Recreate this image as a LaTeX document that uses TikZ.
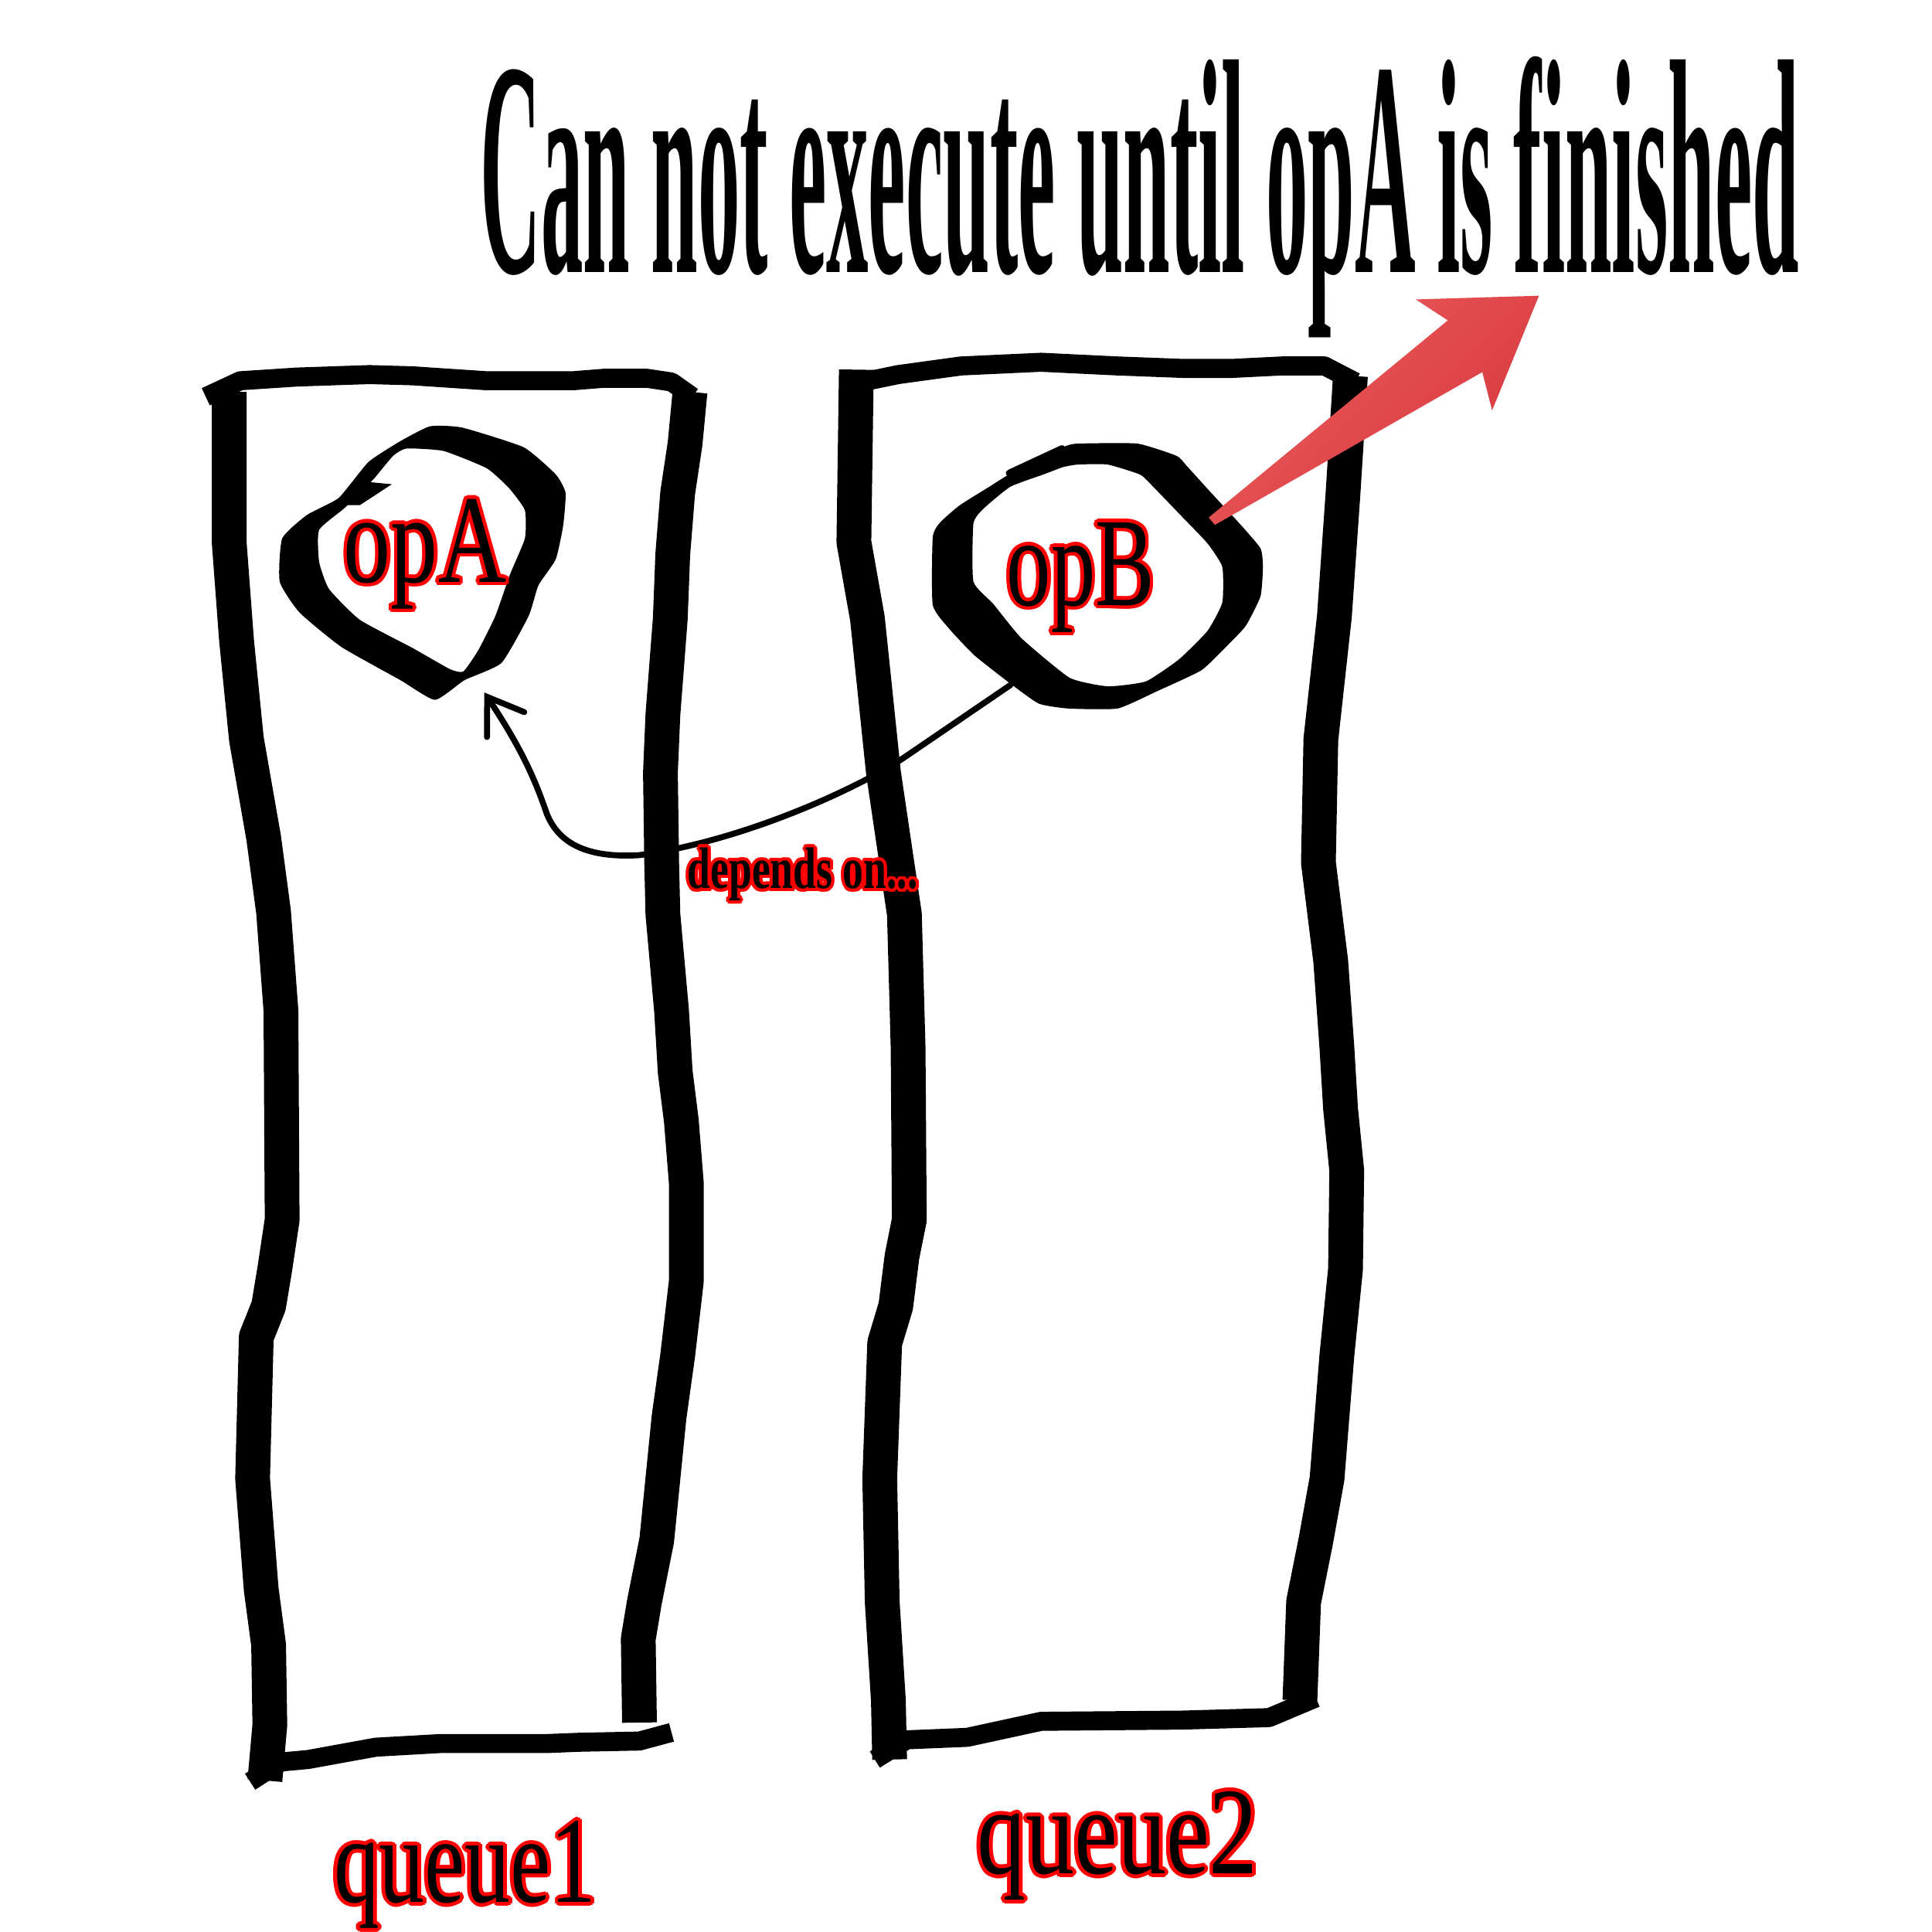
\documentclass[tikz,border=0pt]{standalone}
\usepackage{fontspec}
\setmainfont{Liberation Serif}
\usepackage{graphicx}
\usetikzlibrary{calc,arrows.meta}
\definecolor{arrowlight}{RGB}{236,92,94}
\definecolor{arrowdark}{RGB}{214,56,60}
\newlength\ulen
\setlength\ulen{0.15944mm}
\tikzset{
  vstroke/.style={line width=12.8pt, line join=round},
  hstroke/.style={line width=7pt, line join=round},
  ring/.style={fill=black, even odd rule},
  conn/.style={line width=2.2pt, line cap=round, line join=round,
    -{Straight Barb[length=4.3mm,width=5.8mm,line cap=round]}},
  lab/.style={anchor=north west, inner sep=0pt, outer sep=0pt},
  bigarrow/.style={left color=arrowlight, right color=arrowdark, shading angle=45},
}
% #1 name, #2 coordinate, #3 width (units), #4 height (units), #5 core colour, #6 outline, #7 text
\newcommand\olabel[7]{%
  \foreach \a in {0,30,...,330}{
    \node[lab,text=red] at ($(#2)+(\a:#6)$) {\resizebox*{#3\ulen}{#4\ulen}{#7}};
  }
  \node[lab,text=#5] (#1) at (#2) {\resizebox*{#3\ulen}{#4\ulen}{#7}};
}
\begin{document}
\begin{tikzpicture}[x=0.15944mm,y=-0.15944mm]
\fill[white] (0,0) rectangle (1568,1568);
\useasboundingbox (0,0) rectangle (1568,1568);

% title
\node[lab] (title) at (390,46) {\resizebox*{1070\ulen}{228\ulen}{\bfseries Can not execute until opA is finished}};

% queue1 box
\draw[vstroke] (186,318) -- (186,440) -- (192,520) -- (200,600) -- (214,680) -- (222,740) -- (228,820) -- (229,990) -- (223,1030) -- (218,1060) -- (208,1085) -- (205,1200) -- (212,1290) -- (218,1335) -- (219,1400) -- (215,1445);
\draw[hstroke] (167,322) -- (195,309) -- (241,306) -- (300,304) -- (335,305) -- (395,309) -- (465,309) -- (490,307) -- (525,307) -- (545,310) -- (562,322);
\draw[vstroke] (560,318) -- (556,360) -- (550,400) -- (546,450) -- (544,502) -- (538,580) -- (536,627) -- (537,700) -- (538,742) -- (545,820) -- (548,870) -- (553,910) -- (557,960) -- (557,1040) -- (550,1100) -- (543,1150) -- (533,1250) -- (523,1300) -- (518,1330) -- (519,1398);
\draw[hstroke] (203,1446) -- (228,1430) -- (250,1428) -- (305,1418) -- (358,1415) -- (445,1415) -- (470,1414) -- (519,1413) -- (545,1406);

% queue2 box
\draw[vstroke] (695,300) -- (693,440) -- (704,502) -- (717,627) -- (734,742) -- (737,850) -- (738,990) -- (732,1020) -- (727,1060) -- (718,1090) -- (714,1200) -- (716,1300) -- (721,1380) -- (722,1428);
\draw[hstroke] (690,312) -- (729,304) -- (780,297) -- (845,294) -- (907,297) -- (960,299) -- (1000,299) -- (1040,297) -- (1075,297) -- (1100,310);
\draw[vstroke] (1096,305) -- (1090,400) -- (1083,500) -- (1072,600) -- (1070,700) -- (1080,780) -- (1085,850) -- (1088,900) -- (1093,950) -- (1092,1030) -- (1085,1100) -- (1077,1200) -- (1068,1250) -- (1058,1300) -- (1055,1380);
\draw[hstroke] (710,1428) -- (736,1412) -- (785,1410) -- (845,1397) -- (960,1396) -- (1030,1394) -- (1068,1378);

% opA ring
\fill[ring] plot[smooth cycle, tension=0.3] coordinates {(349,346) (375,347) (425,363) (451,385) (459,400) (457,427) (451,454) (437,475) (429,500) (407,538) (377,552) (353,568) (325,552) (277,525) (243,497) (227,472) (229,437) (249,418) (275,404) (299,375) (325,358)}
  plot[smooth cycle, tension=0.3] coordinates {(330,364) (360,366) (395,380) (413,396) (426,414) (426,437) (414,466) (402,500) (388,528) (376,545) (365,543) (335,526) (292,503) (267,478) (259,456) (259,430) (280,412) (303,389) (319,370)};
\fill (297,391) -- (318,393) -- (292,410) -- (272,410) -- cycle;

% opB ring
\fill[ring] plot[smooth cycle, tension=0.3] coordinates {(875,360) (923,360) (955,370) (963,378) (983,400) (1007,426) (1023,445) (1025,460) (1023,484) (1011,508) (995,525) (975,544) (939,561) (907,575) (867,575) (843,571) (819,554) (791,532) (771,511) (757,491) (757,436) (763,424) (779,410) (803,395) (819,385) (847,371) (865,362)}
  plot[smooth cycle, tension=0.3] coordinates {(875,377) (899,377) (925,385) (933,392) (960,420) (980,441) (992,460) (992,489) (980,512) (957,535) (930,553) (899,557) (868,550) (829,518) (806,490) (790,472) (790,425) (798,413) (820,395) (847,385) (863,379)};
\draw[line width=2.5pt, line cap=round] (819,384) -- (862,364);

% dependency connector
\coordinate (opBedge) at (820,556);
\coordinate (opAedge) at (393,562);
\draw[conn] (opBedge) -- (732,616) .. controls (690,643) and (600,683) .. (519,694)
  .. controls (470,697) and (452,680) .. (444,661)
  .. controls (435,635) and (425,610) .. (opAedge);

% labels
\olabel{opA}{279,405}{132}{89}{black}{1.3pt}{opA}
\olabel{opB}{817,424}{120}{89}{black}{1.3pt}{opB}
\olabel{q1}{271,1478}{213}{87}{black}{1.4pt}{queue1}
\olabel{q2}{793,1454}{228}{88}{black}{1.4pt}{queue2}
\olabel{dep}{558,688}{187}{43}{black}{1.2pt}{\bfseries depends on...}

% red arrow
\shade[bigarrow] (981,420) -- (1175,260) -- (1149,243) -- (1249,240) -- (1211,333) -- (1203,302) -- (986,426) -- cycle;
\end{tikzpicture}
\end{document}
